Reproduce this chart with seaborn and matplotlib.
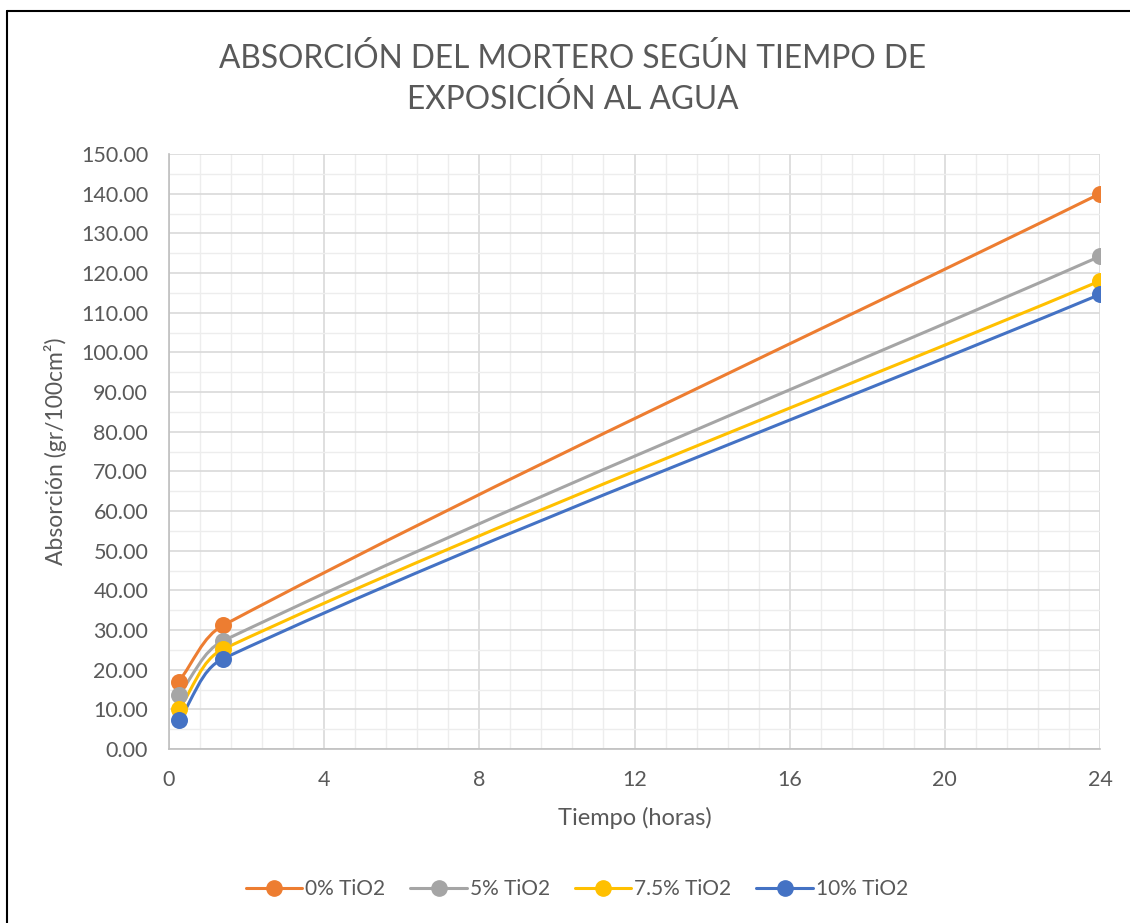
import numpy as np
import matplotlib
matplotlib.use('Agg')
import matplotlib.pyplot as plt
import seaborn as sns
from matplotlib.path import Path
from matplotlib.patches import PathPatch
from matplotlib.lines import Line2D
from matplotlib.ticker import MultipleLocator, FormatStrFormatter

# Data
tiempo = [0.25, 1.4, 24]
abs_0 = [17.0, 31.2, 140.0]
abs_5 = [13.7, 27.3, 124.2]
abs_75 = [10.0, 25.2, 118.0]
abs_10 = [7.2, 22.8, 114.6]
series_names = ['0% TiO2', '5% TiO2', '7.5% TiO2', '10% TiO2']
series_vals = [abs_0, abs_5, abs_75, abs_10]
colors = ['#ED7D31', '#A5A5A5', '#FFC000', '#4472C4']

sns.set_style('white')
plt.rcParams['font.family'] = ['Lato', 'DejaVu Sans']
txt = '#595959'

fig = plt.figure(figsize=(11.3, 9.23), dpi=100)
ax = fig.add_axes([169 / 1130, 1 - 749 / 923, 931 / 1130, 595 / 923])
ax.set_xlim(0, 24)
ax.set_ylim(0, 150)

ax.xaxis.set_major_locator(MultipleLocator(4))
ax.xaxis.set_minor_locator(MultipleLocator(0.8))
ax.yaxis.set_major_locator(MultipleLocator(10))
ax.yaxis.set_minor_locator(MultipleLocator(5))
ax.yaxis.set_major_formatter(FormatStrFormatter('%.2f'))
ax.grid(which='major', color='#D9D9D9', lw=1.2)
ax.grid(which='minor', color='#EDEDED', lw=1.0)
ax.set_axisbelow(True)
for s in ['top', 'right']:
    ax.spines[s].set_visible(False)
for s in ['left', 'bottom']:
    ax.spines[s].set_color('#BFBFBF')
    ax.spines[s].set_linewidth(1.2)
ax.tick_params(which='major', length=5, width=1.2, color='#BFBFBF',
               labelsize=15.5, labelcolor=txt, pad=10)
ax.tick_params(which='minor', length=0)


def smooth_path(xs, ys):
    # Excel-like smoothed line: cubic Bezier through the points, built in pixel space
    pts = ax.transData.transform(np.column_stack([xs, ys]))
    n = len(pts)
    tang = []
    for i in range(n):
        a = pts[max(i - 1, 0)]
        b = pts[min(i + 1, n - 1)]
        d = b - a
        tang.append(d / np.hypot(*d))
    verts = [pts[0]]
    codes = [Path.MOVETO]
    for i in range(n - 1):
        L = np.hypot(*(pts[i + 1] - pts[i]))
        c1 = pts[i] + tang[i] * L / 3
        c2 = pts[i + 1] - tang[i + 1] * L / 3
        verts += [c1, c2, pts[i + 1]]
        codes += [Path.CURVE4] * 3
    verts = ax.transData.inverted().transform(np.array(verts))
    return Path(verts, codes)


handles = []
for name, vals, c in zip(series_names, series_vals, colors):
    ax.add_patch(PathPatch(smooth_path(tiempo, vals), fill=False,
                           edgecolor=c, lw=2.2, zorder=3))
    sns.scatterplot(x=tiempo, y=vals, color=c, s=150, edgecolor=c,
                    linewidth=0, ax=ax, zorder=4, legend=False)
    handles.append(Line2D([], [], color=c, lw=2.2, marker='o',
                          markersize=11, label=name))

ax.set_xlabel('Tiempo (horas)', fontsize=17, color=txt, labelpad=12)
ax.set_ylabel('Absorción (gr/100cm²)', fontsize=16.5, color=txt, labelpad=10)

fig.text(573 / 1130, 1 - 79 / 923,
         'ABSORCIÓN DEL MORTERO SEGÚN TIEMPO DE\nEXPOSICIÓN AL AGUA',
         ha='center', va='center', fontsize=22.8, color=txt, linespacing=1.4)

fig.legend(handles=handles, loc='center', bbox_to_anchor=(577 / 1130, 1 - 889 / 923),
           ncol=4, frameon=False, fontsize=15, labelcolor=txt,
           handlelength=2.7, handletextpad=0.15, columnspacing=1.2)

# outer frame
fig.add_artist(Line2D([6.5 / 1130, 6.5 / 1130], [0, 1 - 10.5 / 923],
                      color='black', lw=1.5, transform=fig.transFigure))
fig.add_artist(Line2D([6.5 / 1130, 1], [1 - 10.5 / 923, 1 - 10.5 / 923],
                      color='black', lw=1.5, transform=fig.transFigure))

fig.savefig('out.png', dpi=100)
